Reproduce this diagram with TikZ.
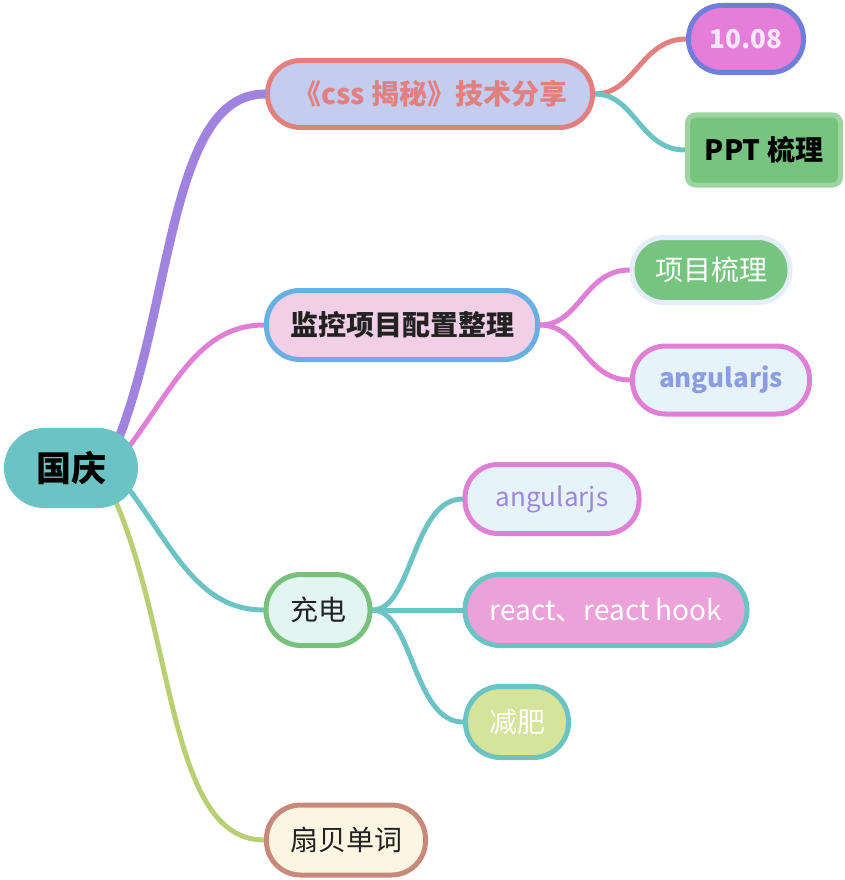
\documentclass[tikz,border=0pt]{standalone}
\usepackage{fontspec}
\setmainfont{Noto Sans CJK SC}
\usetikzlibrary{backgrounds}
\definecolor{cPurple}{HTML}{A083DF}
\definecolor{cPink}{HTML}{E07FD6}
\definecolor{cTeal}{HTML}{6CC3C3}
\definecolor{cYG}{HTML}{B9CF74}
\definecolor{cSalmon}{HTML}{E28080}
\definecolor{cLav}{HTML}{C4CCF0}
\definecolor{cMag}{HTML}{E47ED8}
\definecolor{cBlue}{HTML}{6F7EDB}
\definecolor{cTxtLight}{HTML}{F4E8F8}
\definecolor{cGreen}{HTML}{77C480}
\definecolor{cGreenB}{HTML}{9DD5A0}
\definecolor{cPinkFill}{HTML}{F1CFE7}
\definecolor{cSky}{HTML}{6AAFE3}
\definecolor{cDark}{HTML}{222222}
\definecolor{cPale}{HTML}{E5EDF9}
\definecolor{cIce}{HTML}{E7F3FB}
\definecolor{cBlueTxt}{HTML}{8B9DE0}
\definecolor{cVioTxt}{HTML}{9A88DA}
\definecolor{cMint}{HTML}{E3F5F1}
\definecolor{cGreenC}{HTML}{77C17C}
\definecolor{cRose}{HTML}{EBA2D9}
\definecolor{cLime}{HTML}{D6E39B}
\definecolor{cCream}{HTML}{FCF5E1}
\definecolor{cBrown}{HTML}{C78A7A}
\begin{document}
\begin{tikzpicture}[x=1pt,y=-1pt,
  pill/.style={draw, line width=5pt, rounded corners=#1, inner sep=0pt, align=center,
    font=\fontsize{28}{32}\selectfont},
  pill/.default=33pt,
  boldtxt/.style={font=\fontsize{28}{32}\selectfont\bfseries},
  latin/.style={font=\fontsize{26}{30}\selectfont},
  link/.style={line width=5pt, line cap=round}
]
\useasboundingbox (0,0) rectangle (844,880);
% nodes
\node[fill=cTeal, rounded corners=40pt, minimum width=134pt, minimum height=80pt, inner sep=0pt,
  font=\fontsize{35}{40}\selectfont\bfseries] (root) at (71,468) {国庆};
\node[pill, fill=cLav, draw=cSalmon, text=cSalmon, minimum width=325pt, minimum height=67pt, boldtxt] (css) at (430,94) {《css 揭秘》技术分享};
\node[pill, fill=cMag, draw=cBlue, text=cTxtLight, minimum width=115pt, minimum height=67pt, latin, font=\fontsize{26}{30}\selectfont\bfseries] (d1008) at (746,39) {10.08};
\node[pill=8pt, fill=cGreen, draw=cGreenB, text=black, minimum width=153pt, minimum height=70pt, boldtxt] (ppt) at (764,150) {PPT 梳理};
\node[pill, fill=cPinkFill, draw=cSky, text=cDark, minimum width=271pt, minimum height=69pt, boldtxt] (jk) at (402,325) {监控项目配置整理};
\node[pill=32pt, fill=cGreen, draw=cPale, text=white, minimum width=158pt, minimum height=65pt] (xm) at (711,270) {项目梳理};
\node[pill, fill=cIce, draw=cPink, text=cBlueTxt, minimum width=177pt, minimum height=68pt, font=\fontsize{26}{30}\selectfont\bfseries] (ng1) at (721,380) {angularjs};
\node[pill=35pt, fill=cMint, draw=cGreenC, text=cDark, minimum width=104pt, minimum height=71pt] (cd) at (318,610) {充电};
\node[pill, fill=cIce, draw=cPink, text=cVioTxt, minimum width=174pt, minimum height=69pt, latin] (ng2) at (552,499) {angularjs};
\node[pill=35pt, fill=cRose, draw=cTeal, text=white, minimum width=282pt, minimum height=71pt] (re) at (606,610) {react、react hook};
\node[pill=35pt, fill=cLime, draw=cTeal, text=white, minimum width=103pt, minimum height=71pt] (jf) at (517,722) {减肥};
\node[pill=34pt, fill=cCream, draw=cBrown, text=cDark, minimum width=159pt, minimum height=70pt] (sb) at (346,840) {扇贝单词};
% connectors
\begin{scope}[on background layer]
\draw[link, cPurple, line width=9pt] ([shift={(-20,12)}]root.north east) .. controls +(55,-140) and +(-95,0) .. (css.west);
\draw[link, cPink] ([shift={(-10,20)}]root.north east) .. controls +(45,-60) and +(-65,0) .. (jk.west);
\draw[link, cTeal] ([shift={(-10,-20)}]root.south east) .. controls +(45,60) and +(-65,0) .. (cd.west);
\draw[link, cYG] ([shift={(-23,-8)}]root.south east) .. controls +(60,140) and +(-95,0) .. (sb.west);
\draw[link, cSalmon] (css.east) .. controls +(40,0) and +(-45,0) .. (d1008.west);
\draw[link, cTeal] (css.east) .. controls +(40,0) and +(-45,0) .. (ppt.west);
\draw[link, cPink] (jk.east) .. controls +(40,0) and +(-45,0) .. (xm.west);
\draw[link, cPink] (jk.east) .. controls +(40,0) and +(-45,0) .. (ng1.west);
\draw[link, cTeal] (cd.east) .. controls +(40,0) and +(-50,0) .. (ng2.west);
\draw[link, cTeal] (cd.east) -- (re.west);
\draw[link, cTeal] (cd.east) .. controls +(40,0) and +(-50,0) .. (jf.west);
\end{scope}
\end{tikzpicture}
\end{document}
